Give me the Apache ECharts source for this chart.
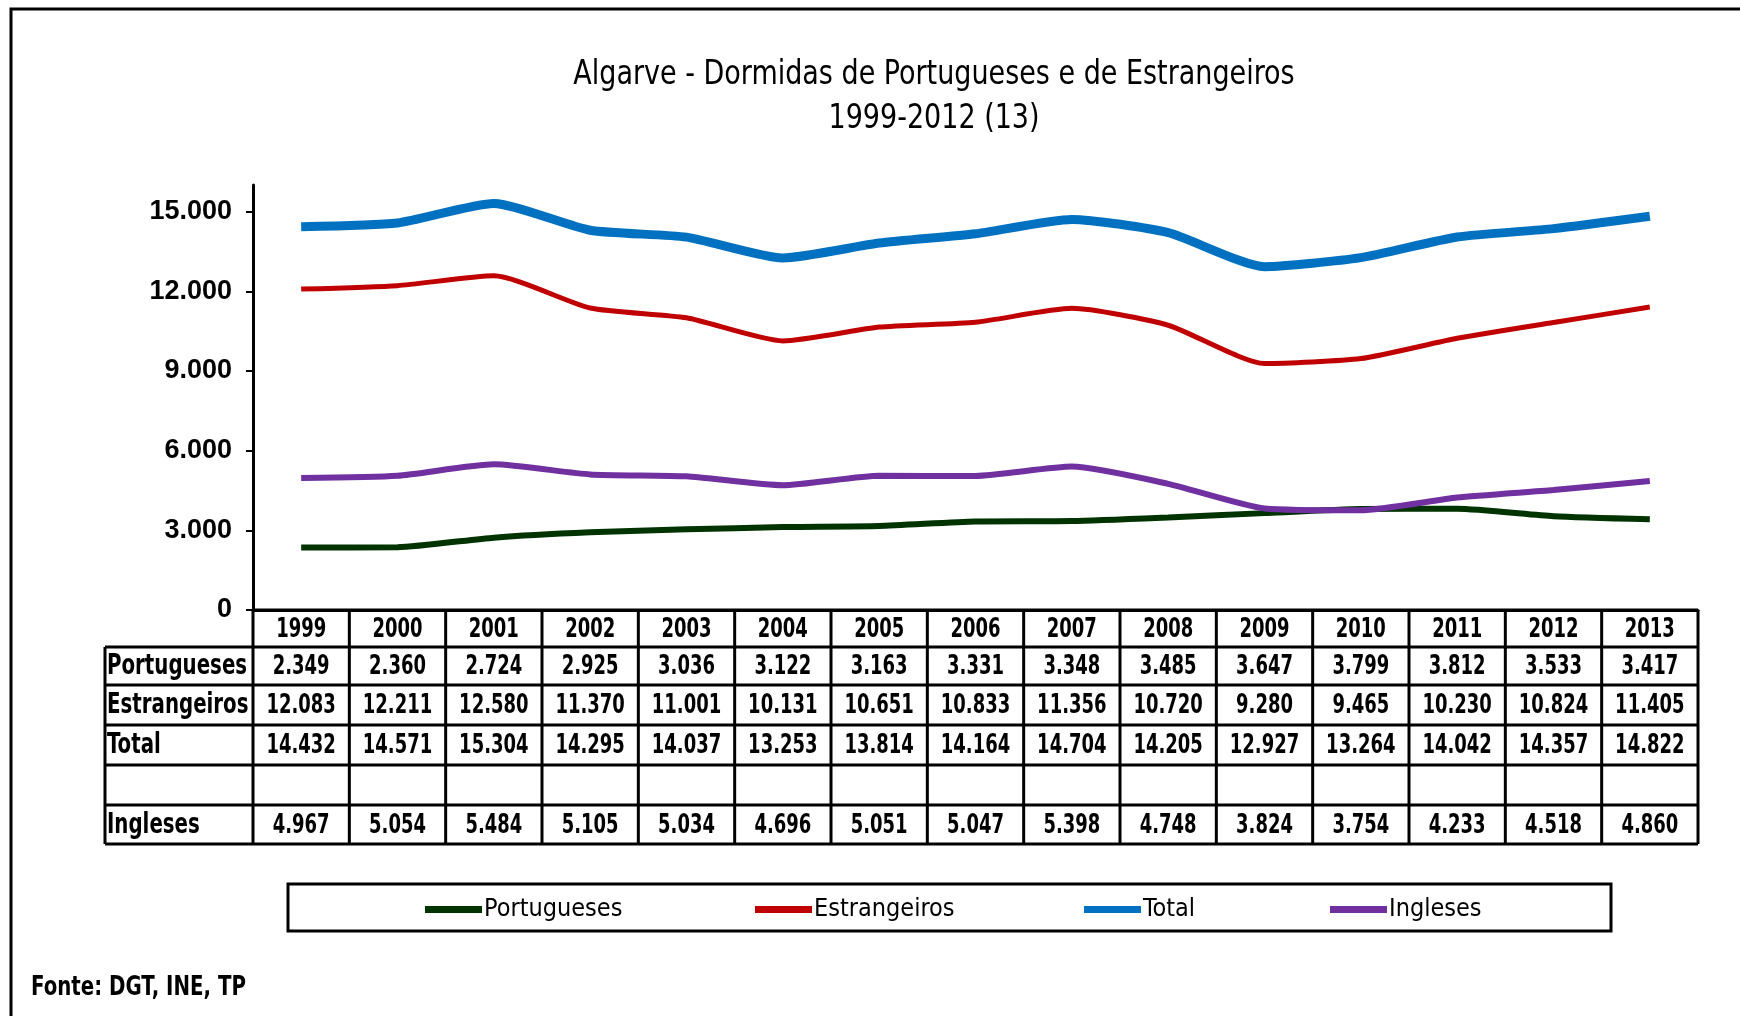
<!DOCTYPE html>
<html>
<head>
<meta charset="utf-8">
<title>Algarve - Dormidas</title>
<script src="https://cdn.jsdelivr.net/npm/echarts@6/dist/echarts.min.js"></script>
<style>
  html, body { margin: 0; padding: 0; background: #fff; }
  #chart { width: 1740px; height: 1016px; }
</style>
</head>
<body>
<div id="chart"></div>
<script>
// dados (milhares de dormidas)
var anos = ['1999', '2000', '2001', '2002', '2003', '2004', '2005', '2006', '2007', '2008', '2009', '2010', '2011', '2012', '2013'];
var portugueses = [2349, 2360, 2724, 2925, 3036, 3122, 3163, 3331, 3348, 3485, 3647, 3799, 3812, 3533, 3417];
var estrangeiros = [12083, 12211, 12580, 11370, 11001, 10131, 10651, 10833, 11356, 10720, 9280, 9465, 10230, 10824, 11405];
var total = [14432, 14571, 15304, 14295, 14037, 13253, 13814, 14164, 14704, 14205, 12927, 13264, 14042, 14357, 14822];
var ingleses = [4967, 5054, 5484, 5105, 5034, 4696, 5051, 5047, 5398, 4748, 3824, 3754, 4233, 4518, 4860];
var yTicks = [0, 3000, 6000, 9000, 12000, 15000];

var narrow = "'DejaVu Sans Condensed', 'Liberation Sans Narrow', sans-serif";

// separador de milhares com ponto
function fmt(v) {
  return String(v).replace(/\B(?=(\d{3})+(?!\d))/g, '.');
}

// texto esticado na vertical (o original tem letras altas e estreitas)
function txt(s, x, y, font, align, sy) {
  return {
    type: 'text', x: x, y: y, scaleY: sy || 1,
    style: { text: s, x: 0, y: 0, align: align || 'center', verticalAlign: 'middle', font: font, fill: '#000' }
  };
}

var myChart = echarts.init(document.getElementById('chart'));

// geometria da tabela por baixo do grafico
var gLeft = 253, gRight = 1698, labLeft = 105;
var colW = (gRight - gLeft) / anos.length;
var rowY = [610, 647, 685, 725, 765, 805, 844];
var rows = [
  { name: 'Portugueses', data: portugueses },
  { name: 'Estrangeiros', data: estrangeiros },
  { name: 'Total', data: total },
  { name: '', data: null },
  { name: 'Ingleses', data: ingleses }
];

var g = [];
// moldura
g.push({ type: 'rect', shape: { x: 11, y: 9, width: 1800, height: 1100 }, style: { fill: 'none', stroke: '#000', lineWidth: 3 } });
// titulo
g.push(txt('Algarve - Dormidas de Portugueses e de Estrangeiros', 934, 75, '30px ' + narrow, 'center', 1.12));
g.push(txt('1999-2012 (13)', 934, 119, '30px ' + narrow, 'center', 1.12));

// linhas horizontais
for (var r = 0; r < rowY.length; r++) {
  var x0 = r === 0 ? gLeft : labLeft;
  g.push({ type: 'line', shape: { x1: x0, y1: rowY[r], x2: gRight, y2: rowY[r] }, style: { stroke: '#000', lineWidth: 3 } });
}
// linhas verticais
g.push({ type: 'line', shape: { x1: labLeft, y1: rowY[1], x2: labLeft, y2: rowY[6] }, style: { stroke: '#000', lineWidth: 3 } });
for (var c = 0; c <= anos.length; c++) {
  var xx = gLeft + c * colW;
  g.push({ type: 'line', shape: { x1: xx, y1: rowY[0], x2: xx, y2: rowY[6] }, style: { stroke: '#000', lineWidth: 3 } });
}
// anos
for (var i = 0; i < anos.length; i++) {
  g.push(txt(anos[i], gLeft + (i + 0.5) * colW, (rowY[0] + rowY[1]) / 2 + 1, 'bold 20px ' + narrow, 'center', 1.35));
}
// valores
rows.forEach(function (row, k) {
  var yc = (rowY[k + 1] + rowY[k + 2]) / 2 + 1;
  g.push(txt(row.name, labLeft + 2, yc, 'bold 22px ' + narrow, 'left', 1.25));
  if (!row.data) return;
  for (var j = 0; j < row.data.length; j++) {
    g.push(txt(fmt(row.data[j]), gLeft + (j + 0.5) * colW, yc, 'bold 20px ' + narrow, 'center', 1.35));
  }
});
// caixa da legenda
g.push({ type: 'rect', shape: { x: 288, y: 884, width: 1323, height: 47 }, style: { fill: 'none', stroke: '#000', lineWidth: 3 } });
// fonte
g.push(txt('Fonte: DGT, INE, TP', 31, 988, 'bold 22px ' + narrow, 'left', 1.2));

var legendBase = { top: 897, padding: 0, itemWidth: 57, itemHeight: 7, icon: 'rect', textStyle: { fontFamily: narrow, fontSize: 25, color: '#000', padding: [0, 0, 0, -3] } };
function leg(name, x) {
  return Object.assign({}, legendBase, { data: [name], left: x });
}

var option = {
  animation: false,
  legend: [leg('Portugueses', 425), leg('Estrangeiros', 755), leg('Total', 1084), leg('Ingleses', 1330)],
  grid: { left: gLeft, right: 1740 - gRight, top: 185, bottom: 1016 - 610, containLabel: false },
  xAxis: {
    type: 'category',
    data: anos,
    boundaryGap: true,
    axisLine: { lineStyle: { color: '#000', width: 3 } },
    axisTick: { show: false },
    axisLabel: { show: false }
  },
  yAxis: {
    type: 'value',
    min: 0,
    max: 16000,
    interval: 1000,
    splitLine: { show: false },
    axisLine: { show: true, lineStyle: { color: '#000', width: 3 } },
    axisTick: { show: true, length: 7, lineStyle: { color: '#000', width: 2 }, customValues: yTicks },
    axisLabel: {
      customValues: yTicks,
      margin: 21,
      fontFamily: "'Liberation Sans', Arial, sans-serif",
      fontWeight: 'bold',
      fontSize: 27,
      color: '#000',
      formatter: function (v) { return v % 3000 === 0 && v <= 15000 ? fmt(v) : ''; }
    }
  },
  series: [
    { name: 'Portugueses', type: 'line', data: portugueses, smooth: 0.2, symbol: 'none', lineStyle: { color: '#003300', width: 6 }, itemStyle: { color: '#003300' } },
    { name: 'Estrangeiros', type: 'line', data: estrangeiros, smooth: 0.2, symbol: 'none', lineStyle: { color: '#C00000', width: 5 }, itemStyle: { color: '#C00000' } },
    { name: 'Total', type: 'line', data: total, smooth: 0.2, symbol: 'none', lineStyle: { color: '#0070C0', width: 9 }, itemStyle: { color: '#0070C0' } },
    { name: 'Ingleses', type: 'line', data: ingleses, smooth: 0.2, symbol: 'none', lineStyle: { color: '#7030A0', width: 6 }, itemStyle: { color: '#7030A0' } }
  ],
  graphic: g
};
option && myChart.setOption(option);
</script>
</body>
</html>
